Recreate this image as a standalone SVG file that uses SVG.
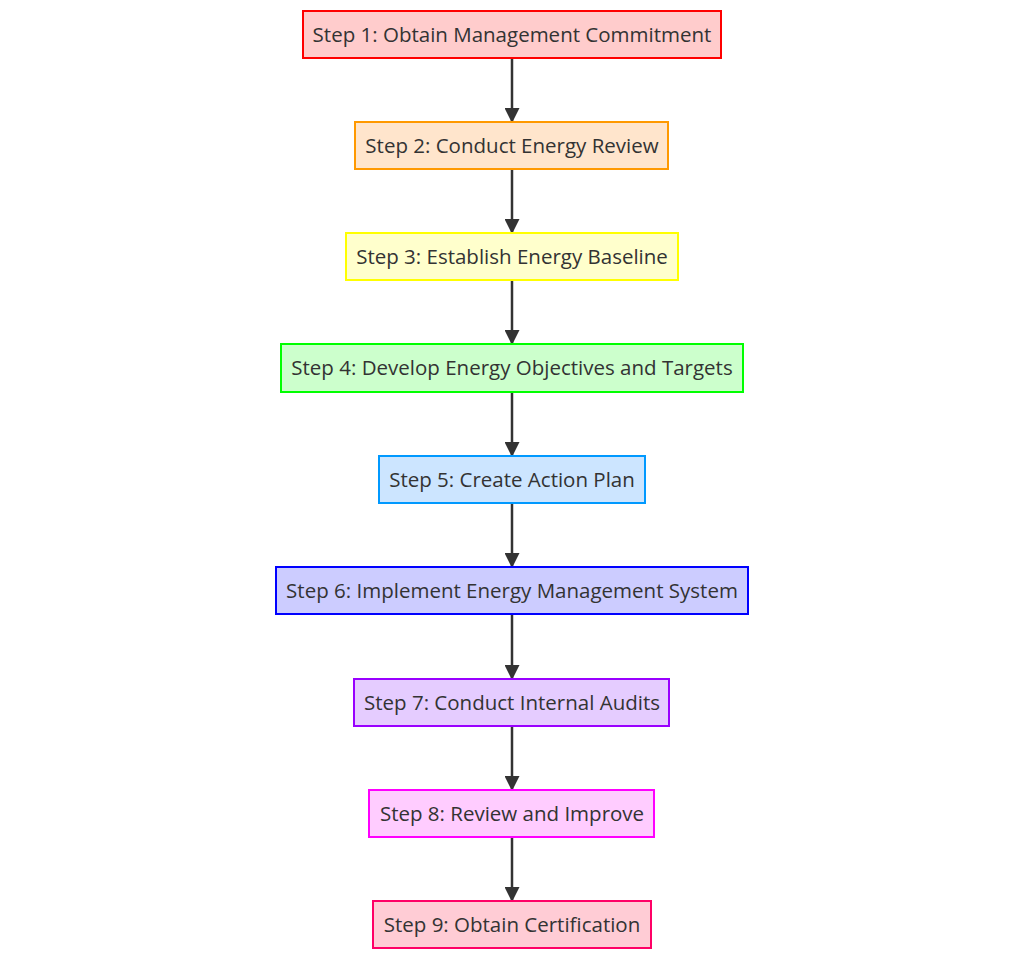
<svg xmlns="http://www.w3.org/2000/svg" width="1024" height="959" viewBox="0 0 1024 959">
<style>
.n rect{stroke-width:2}
.n text{font-family:"Open Sans","Liberation Sans",sans-serif;font-size:20.5px;fill:#333;text-anchor:middle;dominant-baseline:central}
.e line{stroke:#333;stroke-width:2.5;marker-end:url(#ah)}
</style>
<defs>
<marker id="ah" markerWidth="15" markerHeight="15" refX="14" refY="7.5" orient="auto" markerUnits="userSpaceOnUse" viewBox="0 0 15 15">
<path d="M0,0 L15,7.5 L0,15 z" fill="#333"/>
</marker>
</defs>
<rect width="1024" height="959" fill="#fff"/>
<g class="e">
<line x1="512" y1="58" x2="512" y2="122"/>
<line x1="512" y1="169" x2="512" y2="233"/>
<line x1="512" y1="280" x2="512" y2="344"/>
<line x1="512" y1="392" x2="512" y2="456"/>
<line x1="512" y1="503" x2="512" y2="567"/>
<line x1="512" y1="614" x2="512" y2="679"/>
<line x1="512" y1="726" x2="512" y2="790"/>
<line x1="512" y1="837" x2="512" y2="901"/>
</g>
<g id="s1" class="n"><rect x="303" y="11" width="418" height="47" fill="#ffcccc" stroke="#ff0000"/><text x="512" y="33.5">Step 1: Obtain Management Commitment</text></g>
<g id="s2" class="n"><rect x="355" y="122" width="313" height="47" fill="#ffe5cc" stroke="#ff9900"/><text x="512" y="144.5">Step 2: Conduct Energy Review</text></g>
<g id="s3" class="n"><rect x="346" y="233" width="332" height="47" fill="#ffffcc" stroke="#ffff00"/><text x="512" y="255.5">Step 3: Establish Energy Baseline</text></g>
<g id="s4" class="n"><rect x="281" y="344" width="462" height="48" fill="#ccffcc" stroke="#00ff00"/><text x="512" y="367">Step 4: Develop Energy Objectives and Targets</text></g>
<g id="s5" class="n"><rect x="379" y="456" width="266" height="47" fill="#cce5ff" stroke="#0099ff"/><text x="512" y="478.5">Step 5: Create Action Plan</text></g>
<g id="s6" class="n"><rect x="276" y="567" width="472" height="47" fill="#ccccff" stroke="#0000ff"/><text x="512" y="589.5">Step 6: Implement Energy Management System</text></g>
<g id="s7" class="n"><rect x="354" y="679" width="315" height="47" fill="#e5ccff" stroke="#9900ff"/><text x="512" y="701.5">Step 7: Conduct Internal Audits</text></g>
<g id="s8" class="n"><rect x="369" y="790" width="285" height="47" fill="#ffccff" stroke="#ff00ff"/><text x="512" y="812.5">Step 8: Review and Improve</text></g>
<g id="s9" class="n"><rect x="373" y="901" width="278" height="47" fill="#ffccd5" stroke="#ff0066"/><text x="512" y="923.5">Step 9: Obtain Certification</text></g>
</svg>
